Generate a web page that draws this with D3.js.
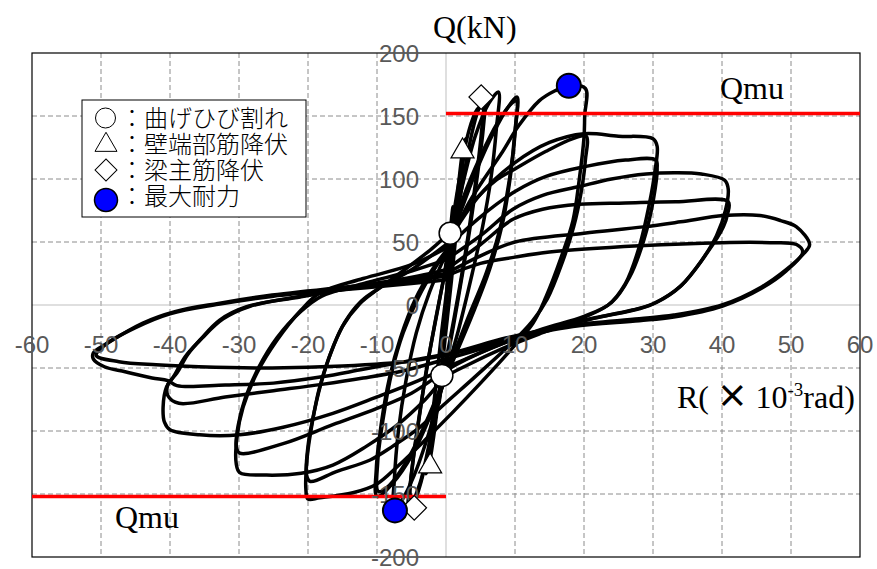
<!DOCTYPE html>
<html>
<head>
<meta charset="utf-8">
<script src="https://cdn.jsdelivr.net/npm/d3@7"></script>
<style>
  body { margin: 0; background: #fff; }
</style>
</head>
<body>
<svg id="chart" width="877" height="569"></svg>
<script>
// 目盛り
const xTicks = [-60, -50, -40, -30, -20, -10, 0, 10, 20, 30, 40, 50, 60];
const yTicks = [-200, -150, -100, -50, 0, 50, 100, 150, 200];
const qmu = 152;

// 履歴ループ (R ×10^-3 rad, Q kN) — サイクルごと
const cyc1 = [[0,0],[0.3,30],[0.6,57],[1.0,78],[0.7,55],[0.3,20],[-0.1,-10],[-0.4,-38],[-0.6,-56],[-1.0,-78],[-0.7,-55],[-0.3,-20],[0.1,10]];
const cyc25 = [[0.1,10],[0.9,50],[1.7,90],[2.4,122],[2.8,132],[2.4,110],[1.6,65],[0.8,20],[-0.1,-25],[-1.0,-70],[-1.8,-105],[-2.5,-128],[-2.9,-134],[-2.4,-110],[-1.5,-65],[-0.6,-20],[0.3,20]];
const cyc5 = [[0.3,20],[1.3,60],[2.5,100],[3.7,135],[4.7,155],[5.6,163],[5.4,140],[4.6,105],[3.5,62],[2.3,22],[0.8,-25],[-0.8,-70],[-2.3,-110],[-3.6,-140],[-4.6,-156],[-5.4,-160],[-5.1,-138],[-4.2,-100],[-3.0,-58],[-1.8,-20],[-0.3,22]];
const cyc5b = [[-0.3,22],[0.9,65],[2.1,105],[3.3,138],[4.5,155],[5.3,158],[5.1,135],[4.3,98],[3.2,55],[2.0,15],[0.5,-30],[-1.0,-72],[-2.5,-112],[-3.8,-142],[-4.9,-155],[-5.2,-150],[-4.8,-125],[-3.9,-90],[-2.8,-50],[-1.6,-15],[-0.3,22]];
const cyc75 = [[-0.3,22],[1,60],[2.6,100],[4.3,135],[6.2,160],[7.6,169],[7.3,140],[6.5,100],[5.3,62],[3.8,25],[1.8,-20],[-0.4,-62],[-2.5,-102],[-4.6,-135],[-6.4,-155],[-7.6,-163],[-7.5,-140],[-6.9,-100],[-5.8,-60],[-4.3,-22],[-2.4,10],[-0.2,38]];
const cyc10 = [[-0.2,38],[2,72],[4.5,108],[7,138],[9,157],[10.3,165],[10.1,142],[9.4,105],[8.2,65],[6.3,28],[3.8,-8],[1.2,-42],[-1.8,-82],[-4.8,-118],[-7.8,-142],[-10,-152],[-10.1,-130],[-9.4,-95],[-8.2,-58],[-6.6,-26],[-4.5,4],[-2,28],[0.3,45]];
const cyc10b = [[0.3,45],[2.5,85],[5,118],[7.5,145],[9.5,160],[10.2,162],[10,138],[9.2,100],[7.8,60],[5.8,25],[3.2,-10],[0.5,-48],[-2.5,-88],[-5.5,-122],[-8.2,-143],[-9.8,-148],[-9.9,-125],[-9.1,-90],[-7.8,-52],[-6.2,-22],[-4,6],[-1.5,30],[0.3,45]];
const cyc20a = [[0.3,45],[3,78],[5.5,100],[8,120],[10.5,142],[13.5,162],[15.8,170],[17.8,174],[20.2,172],[20.1,150],[20,133],[19.3,99],[18.4,67],[16.7,38],[14.5,6.6],[12.6,-14.5],[9,-38],[5,-62],[1,-85],[-3,-107],[-7,-128],[-10,-142],[-13.5,-149],[-18.3,-153],[-20,-154],[-20.3,-147],[-20.1,-120],[-19.4,-94],[-18.4,-67],[-16.9,-41],[-15,-17],[-12.5,1],[-10,12],[-6,28],[-2,45],[1,60]];
const cyc20b = [[1,60],[4,82],[7,98],[10,108],[14.5,122],[18.4,132],[20.3,134],[20.2,115],[19.6,90],[18.5,62],[16.8,33],[14.7,5],[12.5,-13],[9,-33],[4,-58],[-0.5,-80],[-4,-98],[-7.7,-112],[-11,-123],[-15.8,-132],[-19.7,-140],[-20.2,-135],[-20,-112],[-19.3,-90],[-18.2,-64],[-16.7,-38],[-14.7,-14],[-12.3,3],[-9.5,14],[-5,28],[0,48]];
const cyc30a = [[0,48],[5,88],[10,113],[15,129],[20,136],[25,134],[30,132],[30.6,126],[30.3,107],[29.5,81],[28,46],[26,17],[23.5,0],[19,-12],[14,-22],[8,-35],[3,-48],[0,-57],[-3,-75],[-7,-95],[-11.5,-112],[-16.4,-127],[-21,-133.5],[-26,-135],[-29.9,-133],[-30.4,-126],[-30.3,-105],[-29.4,-81],[-27.4,-54],[-24.5,-28],[-21,-4],[-18.3,9.5],[-12,21],[-5,32],[0,45]];
const cyc30b = [[0,45],[5,70],[10,90],[14.5,102],[20.3,110],[26,115],[30.4,115],[30.6,108],[30.1,85],[28.7,52],[26.6,22],[24,2],[20,-9],[14,-19],[8,-31],[3,-43],[0,-52],[-5,-70],[-10,-82],[-16.4,-95],[-23.6,-110],[-29.9,-117.5],[-30.4,-112],[-30.1,-95],[-29.1,-74],[-27.1,-49],[-24.5,-26],[-21,-5],[-18,7],[-12,17],[-5,27],[0,36]];
const cyc40a = [[0,36],[5,55],[9.7,76],[14,87],[19.3,94],[24,100],[29,104],[33.3,105],[37,104],[40.4,99],[40.9,92],[40.5,75],[39.2,55],[37,35],[34,15],[30.5,2],[28,-3],[22,-10],[15,-19],[8,-31],[2,-45],[-4,-60],[-10,-73],[-16.4,-86],[-23.6,-97],[-29.9,-103],[-35.7,-103],[-40,-99],[-40.8,-93],[-41,-81],[-40.5,-65],[-39.5,-57],[-37.8,-41],[-35.7,-28],[-32.8,-12],[-28.9,-1.4],[-21,6.6],[-11.5,16],[-4,23],[0,28]];
const cyc40b = [[0,28],[5,48],[9.7,68],[14,76],[19.3,80],[26,81],[33.3,82],[40.9,82],[40.8,72],[40.2,62],[37.8,41],[33.9,14.5],[30,1],[27,-4],[20,-12],[12,-23],[5,-35],[0,-43],[-6,-52],[-12,-58],[-18,-63],[-25,-68],[-32,-73],[-38.7,-78],[-40.3,-72],[-40.3,-63],[-39,-54],[-37.4,-39],[-35.3,-26],[-32.3,-11],[-28.4,-1],[-21,7],[-11.5,15],[-4,21],[0,25]];
const cyc50a = [[0,25],[5,39],[10,50],[20,57],[28.6,62],[34,66],[40.2,71],[45.5,71],[48.5,67],[50.8,62],[52.7,48],[51.7,40],[49.3,28],[45.8,14.5],[40,0],[33,-8],[28,-11],[18.4,-16],[8.8,-26],[1.5,-37],[-5,-44],[-12,-51],[-18,-57],[-25,-62],[-32,-63.5],[-39,-64],[-40.3,-60],[-42.6,-58],[-46.5,-53],[-49.5,-49],[-51.1,-43],[-51.1,-38],[-48.9,-29.8],[-44,-14.5],[-39.3,-5.3],[-33,1.3],[-25.2,7.9],[-15,14],[-5,19],[0,23]];
const cyc50b = [[0,23],[5,33],[10,38],[15,42],[28,47],[40,49.5],[47,49.5],[50.8,48],[51.7,42],[49.3,27],[45.8,13.5],[40,-1],[33,-9.5],[28,-12.5],[18.4,-17],[8.8,-27.5],[1.5,-38],[-5,-44.5],[-15,-48.5],[-25.2,-50],[-35.8,-49],[-42,-47.5],[-47.4,-45],[-50.7,-40],[-49.5,-32],[-45,-18],[-40,-7],[-33,0.5],[-25,7],[-15,12],[-5,17],[0,20]];
const cycles = [cyc1, cyc25, cyc5, cyc5b, cyc75, cyc10, cyc10b, cyc20a, cyc20b, cyc30a, cyc30b, cyc40a, cyc40b, cyc50a, cyc50b];

// 特徴点
const crackPts = [[0.6, 57], [-0.6, -56]];
const wallYieldPts = [[2.4, 122], [-2.3, -128]];
const beamYieldPts = [[5.1, 165], [-4.6, -161]];
const maxPts = [[17.8, 174], [-7.4, -163]];

// 凡例
const legendLabels = ['：曲げひび割れ', '：壁端部筋降伏', '：梁主筋降伏', '：最大耐力'];

const svg = d3.select('#chart');
const plotL = 32, plotR = 860, plotT = 53, plotB = 557;
const x = d3.scaleLinear().domain([-60, 60]).range([plotL, plotR]);
const y = d3.scaleLinear().domain([-200, 200]).range([plotB, plotT]);

// グリッド
const grid = svg.append('g');
grid.selectAll('.vg').data(xTicks.filter(t => t !== 0 && t !== -60 && t !== 60)).enter()
  .append('line')
  .attr('x1', d => x(d)).attr('x2', d => x(d))
  .attr('y1', plotT).attr('y2', plotB)
  .attr('stroke', '#8c8c8c').attr('stroke-width', 1).attr('stroke-dasharray', '5,3');
grid.selectAll('.hg').data(yTicks.filter(t => t !== 0 && t !== -200 && t !== 200)).enter()
  .append('line')
  .attr('y1', d => y(d)).attr('y2', d => y(d))
  .attr('x1', plotL).attr('x2', plotR)
  .attr('stroke', '#8c8c8c').attr('stroke-width', 1).attr('stroke-dasharray', '5,3');
// 0軸
grid.append('line').attr('x1', x(0)).attr('x2', x(0)).attr('y1', plotT).attr('y2', plotB)
  .attr('stroke', '#bfbfbf').attr('stroke-width', 1);
grid.append('line').attr('y1', y(0)).attr('y2', y(0)).attr('x1', plotL).attr('x2', plotR)
  .attr('stroke', '#bfbfbf').attr('stroke-width', 1);

// 外枠
svg.append('rect').attr('x', plotL).attr('y', plotT)
  .attr('width', plotR - plotL).attr('height', plotB - plotT)
  .attr('fill', 'none').attr('stroke', '#000').attr('stroke-width', 1.2);

// 履歴曲線
const line = d3.line().x(d => x(d[0])).y(d => y(d[1])).curve(d3.curveCatmullRom.alpha(0.5));
svg.append('g').selectAll('path').data(cycles).enter()
  .append('path')
  .attr('d', line)
  .attr('fill', 'none').attr('stroke', '#000').attr('stroke-width', 3.5)
  .attr('stroke-linejoin', 'round').attr('stroke-linecap', 'round');

// Qmu
svg.append('line').attr('x1', x(0)).attr('x2', x(60)).attr('y1', y(qmu)).attr('y2', y(qmu))
  .attr('stroke', '#ff0000').attr('stroke-width', 3.5);
svg.append('line').attr('x1', x(-60)).attr('x2', x(0)).attr('y1', y(-qmu)).attr('y2', y(-qmu))
  .attr('stroke', '#ff0000').attr('stroke-width', 3.5);

// 目盛りラベル
const tickFont = '"Liberation Sans", Arial, sans-serif';
svg.append('g').selectAll('text').data(xTicks).enter()
  .append('text')
  .attr('x', d => x(d)).attr('y', 353)
  .attr('text-anchor', 'middle')
  .attr('font-family', tickFont).attr('font-size', 24).attr('fill', '#595959')
  .text(d => d);
svg.append('g').selectAll('text').data(yTicks).enter()
  .append('text')
  .attr('x', 419).attr('y', d => y(d) + 8.5)
  .attr('text-anchor', 'end')
  .attr('font-family', tickFont).attr('font-size', 24).attr('fill', '#595959')
  .text(d => d);

// マーカー
const markers = svg.append('g');
markers.selectAll('.crack').data(crackPts).enter().append('circle')
  .attr('cx', d => x(d[0])).attr('cy', d => y(d[1])).attr('r', 11)
  .attr('fill', '#fff').attr('stroke', '#000').attr('stroke-width', 1.5);
const tri = d3.symbol().type(d3.symbolTriangle).size(230);
markers.selectAll('.tri').data(wallYieldPts).enter().append('path')
  .attr('d', tri)
  .attr('transform', d => `translate(${x(d[0])},${y(d[1])})`)
  .attr('fill', '#fff').attr('stroke', '#000').attr('stroke-width', 1.2);
const sq = d3.symbol().type(d3.symbolSquare).size(300);
markers.selectAll('.dia').data(beamYieldPts).enter().append('path')
  .attr('d', sq)
  .attr('transform', d => `translate(${x(d[0])},${y(d[1])}) rotate(45)`)
  .attr('fill', '#fff').attr('stroke', '#000').attr('stroke-width', 1.2);
markers.selectAll('.max').data(maxPts).enter().append('circle')
  .attr('cx', d => x(d[0])).attr('cy', d => y(d[1])).attr('r', 12)
  .attr('fill', '#0000ff').attr('stroke', '#000').attr('stroke-width', 2);

// 凡例
const lg = svg.append('g');
lg.append('rect').attr('x', 82).attr('y', 100).attr('width', 224).attr('height', 117)
  .attr('fill', '#fff').attr('stroke', '#000').attr('stroke-width', 1);
const rowY = [118, 144, 170, 196];
lg.append('circle').attr('cx', 105.5).attr('cy', rowY[0]).attr('r', 10)
  .attr('fill', '#fff').attr('stroke', '#000').attr('stroke-width', 1);
lg.append('path').attr('d', d3.symbol().type(d3.symbolTriangle).size(210))
  .attr('transform', `translate(106,${rowY[1] + 1})`)
  .attr('fill', '#fff').attr('stroke', '#000').attr('stroke-width', 1);
lg.append('path').attr('d', d3.symbol().type(d3.symbolSquare).size(240))
  .attr('transform', `translate(106,${rowY[2]}) rotate(45)`)
  .attr('fill', '#fff').attr('stroke', '#000').attr('stroke-width', 1);
lg.append('circle').attr('cx', 106).attr('cy', 200).attr('r', 11.5)
  .attr('fill', '#0000ff').attr('stroke', '#000').attr('stroke-width', 1.5);
// 4行を1つのテキストブロックにまとめる
const lgText = lg.append('text')
  .attr('font-family', '"Noto Sans CJK JP", sans-serif').attr('font-size', 24)
  .attr('font-weight', 300).attr('fill', '#000');
lgText.selectAll('tspan').data(legendLabels).enter().append('tspan')
  .attr('x', 120).attr('y', (d, i) => rowY[i] + 8.5)
  .text(d => d);

// 軸タイトル
const serif = '"Liberation Serif", "Times New Roman", serif';
svg.append('text').attr('x', 433).attr('y', 38)
  .attr('font-family', serif).attr('font-size', 32).text('Q(kN)');
svg.append('text').attr('x', 720).attr('y', 99)
  .attr('font-family', serif).attr('font-size', 32).text('Qmu');
svg.append('text').attr('x', 115).attr('y', 528)
  .attr('font-family', serif).attr('font-size', 32).text('Qmu');
const rt = svg.append('text').attr('x', 677).attr('y', 408)
  .attr('font-family', serif).attr('font-size', 32);
rt.append('tspan').text('R(');
rt.append('tspan').attr('font-family', '"Noto Sans CJK JP", sans-serif').attr('font-weight', 'bold').text(' × ');
rt.append('tspan').text('10');
rt.append('tspan').attr('font-size', 19).attr('dy', -12).text('-3');
rt.append('tspan').attr('dy', 12).text('rad)');
</script>
</body>
</html>
